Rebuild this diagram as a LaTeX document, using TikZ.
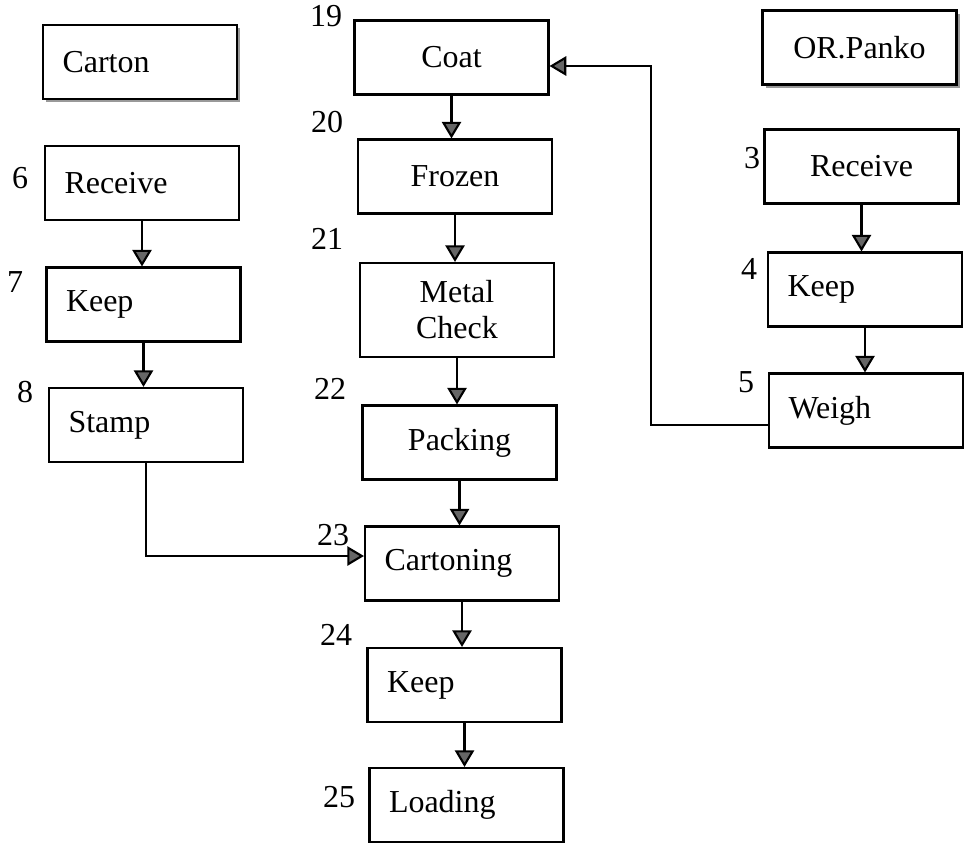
\documentclass[tikz,border=0pt]{standalone}
\usepackage{fontspec}
\setmainfont{Liberation Serif}
\usetikzlibrary{arrows.meta,shadows}

\begin{document}
\begin{tikzpicture}[
		font=\fontsize{18.2}{20.5}\selectfont,
		box/.style={draw, line width=1.2pt, fill=white, text width=3.1cm, inner xsep=0.39cm, minimum height=1.48cm, align=center},
		lbox/.style={box, align=left},
		head/.style={box, drop shadow={shadow xshift=1.8pt, shadow yshift=-1.8pt, fill=black!40, opacity=1}},
		num/.style={inner sep=0pt},
		flow/.style={line width=1.2pt, -{Triangle[width=11pt,length=9.5pt,fill=black!60]}}
	]
		\useasboundingbox (0,0) rectangle (19.38,-17.06);

% carton line
\node[head, align=left] (carton) at (2.80,-1.24) {Carton};
\node[lbox] (recv6) at (2.84,-3.66) {Receive};
\node[lbox] (keep7) at (2.87,-6.09) {Keep};
\node[lbox] (stamp) at (2.92,-8.50) {Stamp};

% main line
\node[box] (coat) at (9.03,-1.15) {Coat};
\node[box] (frozen) at (9.10,-3.53) {Frozen};
\node[box, minimum height=1.88cm] (metal) at (9.14,-6.20) {Metal\\Check};
\node[box] (packing) at (9.19,-8.85) {Packing};
\node[lbox] (cartoning) at (9.24,-11.27) {Cartoning};
\node[lbox] (keep24) at (9.29,-13.70) {Keep};
\node[lbox] (loading) at (9.33,-16.10) {Loading};

% panko line
\node[head] (panko) at (17.19,-0.95) {OR.Panko};
\node[box] (recv3) at (17.23,-3.33) {Receive};
\node[lbox] (keep4) at (17.30,-5.79) {Keep};
\node[lbox] (weigh) at (17.32,-8.21) {Weigh};

% step numbers
\node[num] (n6) at (0.40,-3.56) {6};
\node[num] (n7) at (0.30,-5.64) {7};
\node[num] (n8) at (0.50,-7.84) {8};
\node[num] (n19) at (6.52,-0.32) {19};
\node[num] (n20) at (6.54,-2.44) {20};
\node[num] (n21) at (6.54,-4.78) {21};
\node[num] (n22) at (6.60,-7.78) {22};
\node[num] (n23) at (6.66,-10.70) {23};
\node[num] (n24) at (6.72,-12.70) {24};
\node[num] (n25) at (6.78,-15.94) {25};
\node[num] (n3) at (15.04,-3.16) {3};
\node[num] (n4) at (14.98,-5.38) {4};
\node[num] (n5) at (14.92,-7.64) {5};

\draw[flow] (recv6.south) -- (recv6.south |- keep7.north);
\draw[flow] (keep7.south) -- (keep7.south |- stamp.north);
\draw[flow] (stamp.south) |- ([yshift=0.15cm]cartoning.west);

\draw[flow] (coat.south) -- (coat.south |- frozen.north);
\draw[flow] (frozen.south) -- (frozen.south |- metal.north);
\draw[flow] (metal.south) -- (metal.south |- packing.north);
\draw[flow] (packing.south) -- (packing.south |- cartoning.north);
\draw[flow] (cartoning.south) -- (cartoning.south |- keep24.north);
\draw[flow] (keep24.south) -- (keep24.south |- loading.north);

\draw[flow] (recv3.south) -- (recv3.south |- keep4.north);
\draw[flow] (keep4.south) -- (keep4.south |- weigh.north);
\draw[flow] ([yshift=-0.29cm]weigh.west) -- ++(-2.34,0) |- ([yshift=-0.17cm]coat.east);
		\end{tikzpicture}
\end{document}
